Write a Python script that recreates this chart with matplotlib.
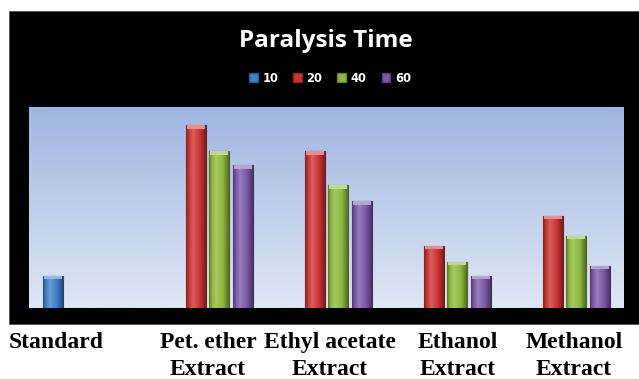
import numpy as np
import matplotlib
matplotlib.use("Agg")
import matplotlib.pyplot as plt
from matplotlib.patches import Rectangle, Patch
from matplotlib.colors import LinearSegmentedColormap, to_rgb

# ---- data ----
categories = ["Standard", "Pet. ether\nExtract", "Ethyl acetate\nExtract", "Ethanol\nExtract", "Methanol\nExtract"]
series_names = ["10", "20", "40", "60"]
s10 = [16, 0, 0, 0, 0]
s20 = [0, 91, 78, 31, 46]
s40 = [0, 78, 61, 23, 36]
s60 = [0, 71, 53, 16, 21]
series_values = [s10, s20, s40, s60]
title = "Paralysis Time"

# ---- style / layout ----
colors = ["#3f7fc8", "#cc3333", "#8cb83c", "#7b58a8"]
W, H = 639, 379
fig = plt.figure(figsize=(W / 100, H / 100), dpi=100)
fig.patch.set_facecolor("white")

def fx(px):
    return px / W

def fy(py):
    return 1 - py / H

# black chart box
fig.patches.append(Rectangle((fx(9), fy(324)), fx(639) - fx(9), fy(11) - fy(324),
                             transform=fig.transFigure, facecolor="black",
                             edgecolor="#555555", linewidth=0.6, zorder=0))

ax = fig.add_axes([fx(29), fy(308), fx(624) - fx(29), fy(107) - fy(308)])
ax.set_zorder(1)
ax.set_facecolor("none")

# background gradient
grad = np.linspace(0, 1, 256).reshape(-1, 1)
bg_cmap = LinearSegmentedColormap.from_list("bg", ["#9fb5e1", "#dfe7f4"])
ax.imshow(grad, extent=[0, 1, 0, 1], transform=ax.transAxes, aspect="auto",
          cmap=bg_cmap, zorder=0, origin="upper")

n_cat = len(categories)
x = np.arange(n_cat)
pitch = 0.1975
width = 0.168

def mix(c, t, amt):
    c = np.array(to_rgb(c)); t = np.array(to_rgb(t))
    return tuple(c * (1 - amt) + t * amt)

hgrad = np.linspace(0, 1, 64).reshape(1, -1)
for i, (vals, col) in enumerate(zip(series_values, colors)):
    xs = x + (i - 1.5) * pitch
    bars = ax.bar(xs, vals, width=width, color=col, edgecolor=mix(col, "black", 0.45),
                  linewidth=0.8, zorder=2)
    cm = LinearSegmentedColormap.from_list(
        "b%d" % i,
        [(0, mix(col, "black", 0.35)), (0.15, col), (0.35, mix(col, "white", 0.22)),
         (0.7, col), (1, mix(col, "black", 0.4))])
    for b, v in zip(bars, vals):
        if v <= 0:
            continue
        x0 = b.get_x(); x1 = x0 + b.get_width()
        im = ax.imshow(hgrad, extent=[x0, x1, 0, v], aspect="auto", cmap=cm, zorder=2.5)
        im.set_clip_path(b)
        capc = mix(col, "white", 0.45)
        ax.bar(b.get_x() + b.get_width() / 2, 1.8, bottom=v - 1.8, width=width * 0.9,
               color=capc, linewidth=0, zorder=3)

ax.set_xlim(-0.5, n_cat - 0.5)
ax.set_ylim(0, 100)
ax.set_xticks([]); ax.set_yticks([])
for s in ax.spines.values():
    s.set_visible(False)

# title
fig.text(fx(326), fy(47), title, ha="center", va="baseline", color="white",
         fontsize=17.5, fontweight="bold", family=["Open Sans", "DejaVu Sans"])

# legend
handles = [Patch(facecolor=c, edgecolor=mix(c, "black", 0.3)) for c in colors]
leg = fig.legend(handles, series_names, loc="center", bbox_to_anchor=(fx(330), fy(78)),
                 ncol=4, frameon=False, handlelength=0.75, handleheight=0.75,
                 handletextpad=0.4, columnspacing=1.3,
                 prop={"family": ["DejaVu Sans"], "weight": "bold", "size": 8.3})
for t in leg.get_texts():
    t.set_color("white")

# category labels below chart
label_centers = [56, 208, 330, 458, 574]
for lab, cx in zip(categories, label_centers):
    lines = lab.split("\n")
    for j, ln in enumerate(lines):
        fig.text(fx(cx), fy(348 + 27 * j), ln, ha="center", va="baseline",
                 color="black", fontsize=17, fontweight="bold",
                 family=["Liberation Serif", "DejaVu Serif"])

fig.savefig("out.png", dpi=100, facecolor="white")
